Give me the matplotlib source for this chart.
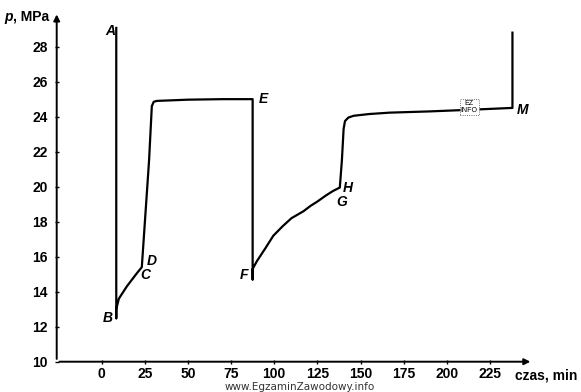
import matplotlib
matplotlib.use("Agg")
import matplotlib.pyplot as plt

FONT = {'family': 'Liberation Sans', 'weight': 'bold', 'size': 10}
matplotlib.rc('font', **FONT)

# pressure history
czas = [8.5, 8.5, 8.5, 10, 14.6, 20.4, 23.3, 27.5, 29.1, 30.2, 32, 50, 70, 87.5,
        87.5, 87.5, 90, 95, 99.5, 105, 110, 117, 121, 125, 130, 134, 138,
        139.2, 140.2, 141, 143, 146, 155, 167, 190, 215, 238, 238]
cisnienie = [29.07, 12.48, 13.0, 13.6, 14.3, 15.05, 15.4, 21.5, 24.6, 24.85, 24.9, 24.97, 25.0, 25.0,
             14.7, 15.3, 15.75, 16.5, 17.2, 17.75, 18.2, 18.6, 18.9, 19.15, 19.5, 19.75, 19.95,
             21.5, 23.3, 23.75, 23.95, 24.05, 24.15, 24.23, 24.3, 24.4, 24.5, 28.8]

# letter labels and where they sit
etykiety = ['A', 'B', 'C', 'D', 'E', 'F', 'G', 'H', 'M']
etykiety_t = [5.3, 3.5, 25.5, 29.0, 93.5, 82.5, 139.0, 142.8, 244.0]
etykiety_p = [28.9, 12.5, 14.95, 15.75, 25.0, 14.95, 19.1, 19.9, 24.4]

x_ticks = [0, 25, 50, 75, 100, 125, 150, 175, 200, 225]
y_ticks = [10, 12, 14, 16, 18, 20, 22, 24, 26, 28]

fig = plt.figure(figsize=(5.81, 3.92), dpi=100)
ax = fig.add_axes([0.0976, 0.0773, 0.826, 0.893])
ax.set_xlim(-26, 252)
ax.set_ylim(10, 30)

for s in ax.spines.values():
    s.set_visible(False)

# axes drawn as arrows like in the scan
ax.annotate('', xy=(250, 10), xytext=(-26, 10),
            arrowprops=dict(arrowstyle='-|>', lw=1.4, color='black', mutation_scale=9),
            annotation_clip=False)
ax.annotate('', xy=(-26, 30.0), xytext=(-26, 10),
            arrowprops=dict(arrowstyle='-|>', lw=1.4, color='black', mutation_scale=9),
            annotation_clip=False)

ax.set_xticks(x_ticks)
ax.set_yticks(y_ticks)
ax.tick_params(axis='x', direction='inout', length=3, width=1, pad=2, labelsize=10)
ax.tick_params(axis='y', direction='inout', length=3, width=1, pad=5, labelsize=10)

ax.plot(czas, cisnienie, color='black', linewidth=1.6, solid_joinstyle='round')

for lab, t, p in zip(etykiety, etykiety_t, etykiety_p):
    ax.text(t, p, lab, style='italic', fontweight='bold', fontsize=10,
            ha='center', va='center')

fig.text(0.007, 0.957, 'p', style='italic', fontweight='bold', fontsize=10, va='center')
fig.text(0.023, 0.957, ', MPa', fontweight='bold', fontsize=10, va='center')
fig.text(0.886, 0.043, 'czas, min', fontweight='bold', fontsize=10, va='center')
fig.text(0.515, 0.013, 'www.EgzaminZawodowy.info', fontweight='normal', fontsize=7.5,
         family='DejaVu Sans', color='#333333', ha='center', va='center')

# little "EZ INFO" stamp
ax.text(213, 24.55, 'EZ\nINFO', fontsize=5, fontweight='normal', ha='center', va='center',
        linespacing=0.9, bbox=dict(boxstyle='square,pad=0.15', fc='white', ec='#444444',
                                   lw=0.6, ls=':'))

plt.savefig('out.png', dpi=100)
